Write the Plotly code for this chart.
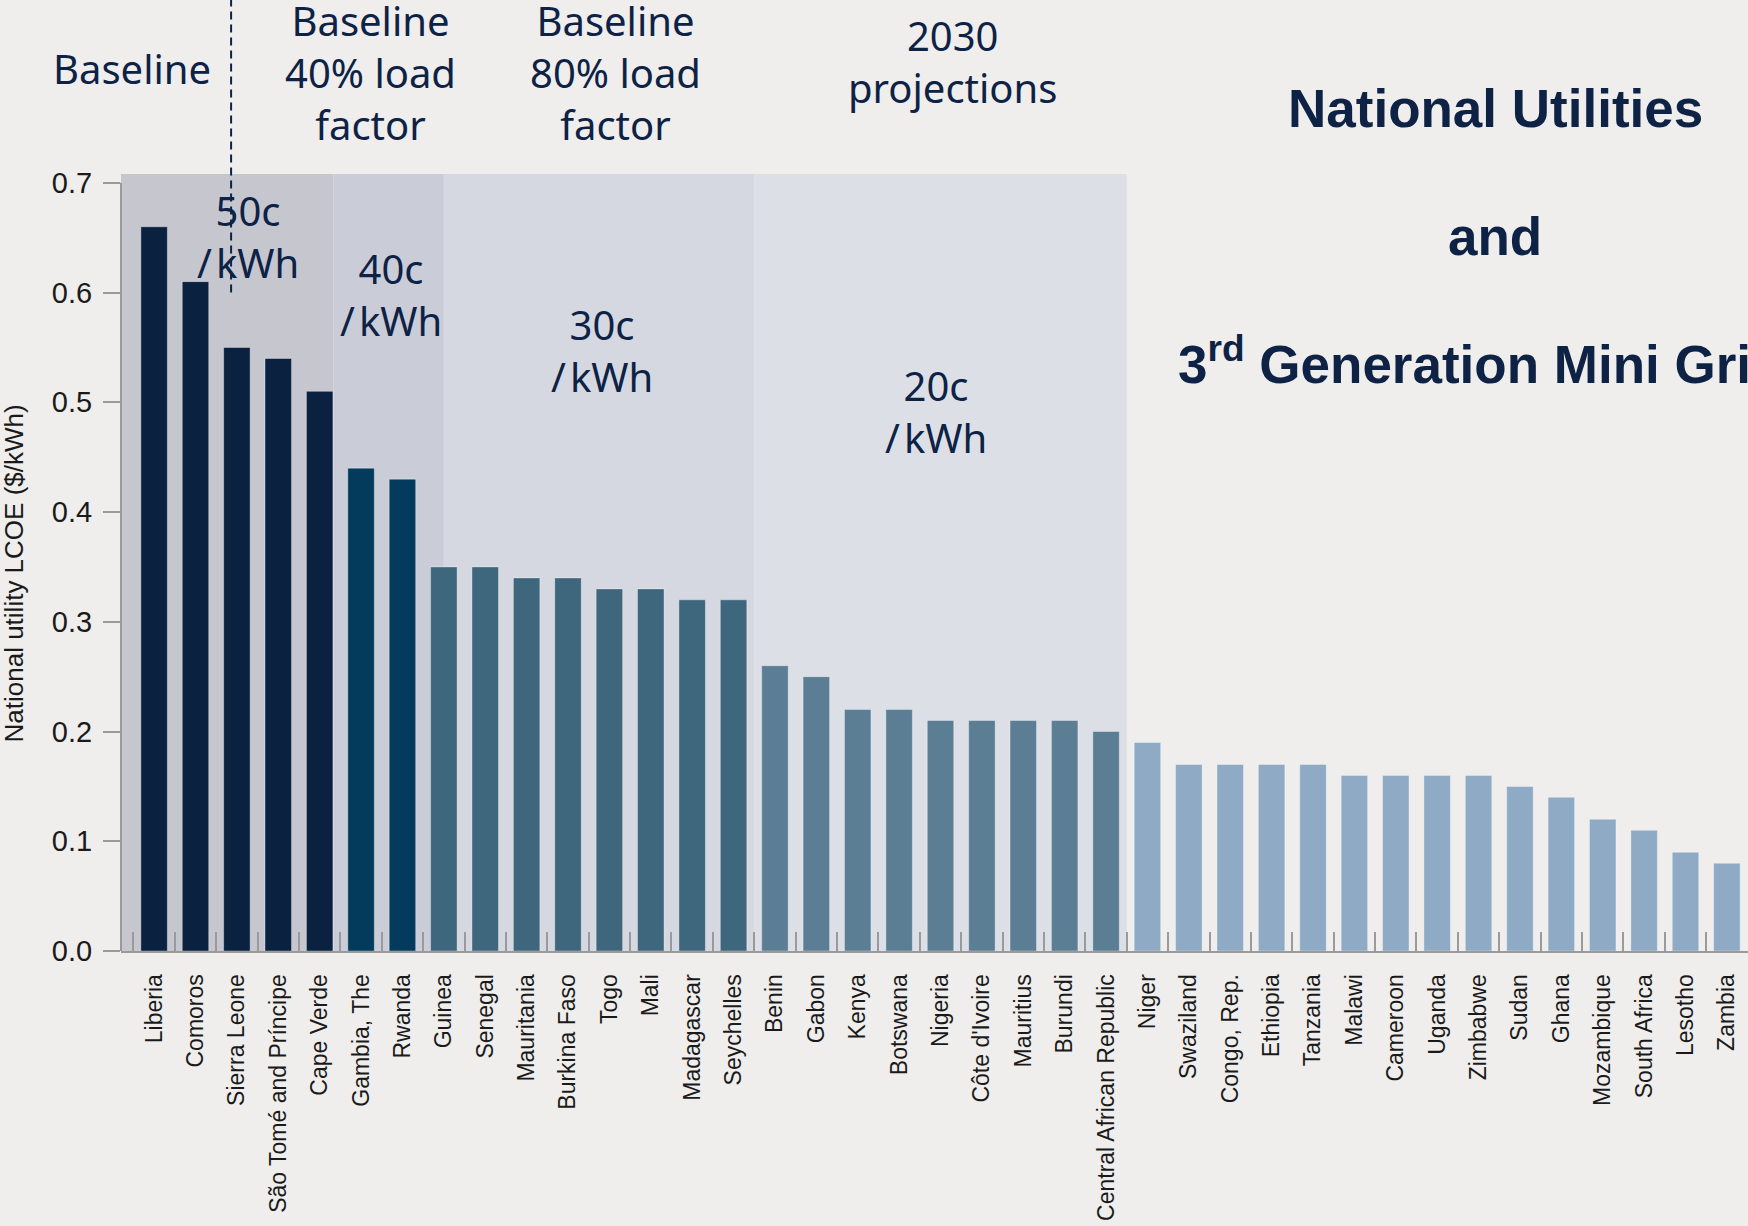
import plotly.graph_objects as go

# --- data -------------------------------------------------------------
countries = [
    "Liberia", "Comoros", "Sierra Leone", "São Tomé and Príncipe", "Cape Verde",
    "Gambia, The", "Rwanda",
    "Guinea", "Senegal", "Mauritania", "Burkina Faso", "Togo", "Mali",
    "Madagascar", "Seychelles",
    "Benin", "Gabon", "Kenya", "Botswana", "Nigeria", "Côte d'Ivoire",
    "Mauritius", "Burundi", "Central African Republic",
    "Niger", "Swaziland", "Congo, Rep.", "Ethiopia", "Tanzania", "Malawi",
    "Cameroon", "Uganda", "Zimbabwe", "Sudan", "Ghana", "Mozambique",
    "South Africa", "Lesotho", "Zambia",
]
lcoe = [
    0.66, 0.61, 0.55, 0.54, 0.51,
    0.44, 0.43,
    0.35, 0.35, 0.34, 0.34, 0.33, 0.33, 0.32, 0.32,
    0.26, 0.25, 0.22, 0.22, 0.21, 0.21, 0.21, 0.21, 0.20,
    0.19, 0.17, 0.17, 0.17, 0.17, 0.16, 0.16, 0.16, 0.16, 0.15, 0.14,
    0.12, 0.11, 0.09, 0.08,
]
# number of consecutive countries in each colour tier
tier_sizes = [5, 2, 8, 9, 15]
tier_colors = ["#0a2140", "#033b5c", "#3e667c", "#5b7e95", "#8eaac4"]

# cost-threshold bands behind the bars (category-index edges)
band_edges = [-0.8, 4.33, 7.0, 14.5, 23.5]
band_colors = ["#c6c6cf", "#cacdd8", "#d5d8e0", "#dcdfe6"]
band_labels = ["50c<br>/\u200akWh", "40c<br>/\u200akWh",
               "30c<br>/\u200akWh", "20c<br>/\u200akWh"]
band_label_pos = [(2.28, 0.651), (5.73, 0.598), (10.83, 0.547), (18.9, 0.492)]

scenario_labels = ["Baseline", "Baseline<br>40% load<br>factor",
                   "Baseline<br>80% load<br>factor", "2030<br>projections"]
scenario_pos = [(-0.54, 0.804), (5.22, 0.801), (11.14, 0.801), (19.28, 0.811)]

Y_MAX = 0.75
NAVY = "#0d2245"
BG = "#efeeec"
AXIS_GREY = "#9a9a9a"

bar_colors = []
for size, col in zip(tier_sizes, tier_colors):
    bar_colors += [col] * size

fig = go.Figure(
    go.Bar(
        x=countries,
        y=lcoe,
        width=0.64,
        marker=dict(color=bar_colors,
                    line=dict(width=1, color="rgba(255,255,255,0.35)")),
        hoverinfo="x+y",
    )
)

shapes = []
for x0, x1, col in zip(band_edges[:-1], band_edges[1:], band_colors):
    shapes.append(dict(type="rect", xref="x", yref="y", x0=x0, x1=x1,
                       y0=0, y1=0.708, fillcolor=col, line=dict(width=0),
                       layer="below"))
# value axis line, running only over the labelled range
shapes.append(dict(type="line", xref="paper", yref="y", x0=0, x1=0,
                   y0=0, y1=0.7, line=dict(color=AXIS_GREY, width=2)))
# dashed separator between the baseline scenarios
shapes.append(dict(type="line", xref="x", yref="paper", x0=1.86, x1=1.86,
                   y0=0.6 / Y_MAX, y1=1.16,
                   line=dict(color=NAVY, width=2, dash="8px,5px")))

label_font = dict(family="Noto Sans", size=40, color=NAVY)
annotations = []
for (bx, by), txt in zip(band_label_pos, band_labels):
    annotations.append(dict(x=bx, y=by, xref="x", yref="y", text=txt,
                            xanchor="center", yanchor="middle",
                            showarrow=False, font=label_font))
for (sx, sy), txt in zip(scenario_pos, scenario_labels):
    annotations.append(dict(x=sx, y=sy / Y_MAX, xref="x", yref="paper",
                            xanchor="center", yanchor="middle",
                            text=txt, showarrow=False, font=label_font))

title_font = dict(family="Liberation Sans, Arial", size=53, color=NAVY)
annotations += [
    dict(x=32.4, y=0.768 / Y_MAX, xref="x", yref="paper",
         xanchor="center", yanchor="middle",
         text="<b>National Utilities</b>", showarrow=False, font=title_font),
    dict(x=32.4, y=0.651, xref="x", yref="y", text="<b>and</b>",
         xanchor="center", yanchor="middle",
         showarrow=False, font=title_font),
    dict(x=32.4, y=0.538, xref="x", yref="y",
         xanchor="center", yanchor="middle",
         text="<b>3<sup>rd</sup> Generation Mini Grids</b>",
         showarrow=False, font=title_font),
    dict(x=-0.0658, y=0.344, xref="paper", yref="y", textangle=-90,
         xanchor="center", yanchor="middle",
         text="National utility LCOE ($/kWh)", showarrow=False,
         font=dict(family="Liberation Sans, Arial", size=26, color="#1a1a1a")),
]

fig.update_layout(
    width=1748, height=1226,
    margin=dict(l=120.5, r=0, t=127.5, b=275, pad=0),
    paper_bgcolor=BG, plot_bgcolor=BG,
    showlegend=False,
    shapes=shapes,
    annotations=annotations,
    xaxis=dict(
        type="category",
        range=[-0.8, 38.51],
        tickangle=-90,
        tickson="boundaries",
        ticks="inside", ticklen=19, tickwidth=2, tickcolor=AXIS_GREY,
        showline=True, linecolor=AXIS_GREY, linewidth=2,
        showgrid=False, zeroline=False,
        ticklabelstandoff=12,
        tickfont=dict(family="Liberation Sans, Arial", size=23, color="#1a1a1a"),
    ),
    yaxis=dict(
        range=[0, Y_MAX],
        tickvals=[0, 0.1, 0.2, 0.3, 0.4, 0.5, 0.6, 0.7],
        tickformat=".1f",
        ticks="outside", ticklen=17, tickwidth=2, tickcolor=AXIS_GREY,
        showline=False,
        showgrid=False, zeroline=False,
        ticklabelstandoff=5,
        tickfont=dict(family="Liberation Sans, Arial", size=29, color="#1a1a1a"),
    ),
)

fig.write_html("out.html")
